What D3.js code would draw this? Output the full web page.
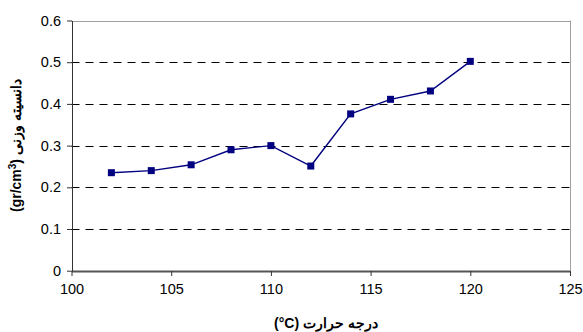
<!DOCTYPE html>
<html><head><meta charset="utf-8">
<script src="https://cdn.jsdelivr.net/npm/d3@7"></script>
<style>body{margin:0;background:#fff}svg{display:block}text{font-family:"Liberation Sans",Arial,sans-serif}</style>
</head><body><svg id="c" width="583" height="332"></svg>
<script>
const temps = [102,104,106,108,110,112,114,116,118,120];
const density = [0.235,0.24,0.254,0.29,0.30,0.251,0.376,0.411,0.431,0.502];
const xTicks = [100,105,110,115,120,125];
const yTicks = [0,0.1,0.2,0.3,0.4,0.5,0.6];
const xTitle = "درجه حرارت (\u200E°C)";
const yTitleMain = "دانسیته وزنی ";

const svg = d3.select("#c");
const m = {l:71.5, r:570, t:20.5, b:270.7};
const x = d3.scaleLinear().domain([100,125]).range([m.l,m.r]);
const y = d3.scaleLinear().domain([0,0.6]).range([m.b,m.t]);

// gridlines
svg.append("g").selectAll("line").data(yTicks.filter(d=>d>0 && d<0.6)).join("line")
  .attr("x1",m.l).attr("x2",m.r).attr("y1",d=>Math.round(y(d))+0.5).attr("y2",d=>Math.round(y(d))+0.5)
  .attr("stroke","#000").attr("stroke-width",1).attr("stroke-dasharray","8,6");
// top and right border
svg.append("line").attr("x1",m.l).attr("x2",m.r).attr("y1",Math.round(m.t)+0.5).attr("y2",Math.round(m.t)+0.5).attr("stroke","#a0a0a0");
svg.append("line").attr("x1",Math.round(m.r)+0.5).attr("x2",Math.round(m.r)+0.5).attr("y1",m.t).attr("y2",m.b).attr("stroke","#a0a0a0");

// axes
const xa = svg.append("g").attr("transform",`translate(0,${Math.round(m.b)})`)
  .call(d3.axisBottom(x).tickValues(xTicks).tickSize(5).tickSizeOuter(0).tickPadding(8));
const ya = svg.append("g").attr("transform",`translate(${Math.round(m.l)},0)`)
  .call(d3.axisLeft(y).tickValues(yTicks).tickSize(5).tickSizeOuter(0).tickPadding(6).tickFormat(d=>d===0?"0":d3.format(".1f")(d)));
xa.select(".domain").attr("stroke","#555").attr("stroke-width",2);
ya.select(".domain").attr("stroke","#333").attr("stroke-width",1);
[xa,ya].forEach(a=>{a.selectAll(".tick line").attr("stroke","#333");
  a.selectAll(".tick text").attr("font-size",14.5).attr("fill","#000").style("font-family","Liberation Sans, Arial, sans-serif");});

// line + markers
svg.append("path").datum(temps.map((t,i)=>[t,density[i]]))
  .attr("d",d3.line().x(d=>x(d[0])).y(d=>y(d[1])))
  .attr("fill","none").attr("stroke","#000080").attr("stroke-width",1.4);
svg.append("g").selectAll("rect").data(temps.map((t,i)=>[t,density[i]])).join("rect")
  .attr("x",d=>x(d[0])-3.5).attr("y",d=>y(d[1])-3.5).attr("width",7).attr("height",7)
  .attr("fill","#000080");

// titles
svg.append("text").attr("x",326).attr("y",328).attr("text-anchor","middle")
  .attr("font-size",14).attr("font-weight","bold").attr("direction","rtl").text(xTitle);
const yt = svg.append("text").attr("transform",`translate(21,${(m.t+m.b)/2}) rotate(-90)`)
  .attr("text-anchor","middle").attr("font-size",14).attr("font-weight","bold").attr("direction","rtl");
yt.append("tspan").text(yTitleMain + "(gr/cm");
yt.append("tspan").attr("dy",-5).attr("font-size",10).text("3");
yt.append("tspan").attr("dy",5).text(")");
</script></body></html>
